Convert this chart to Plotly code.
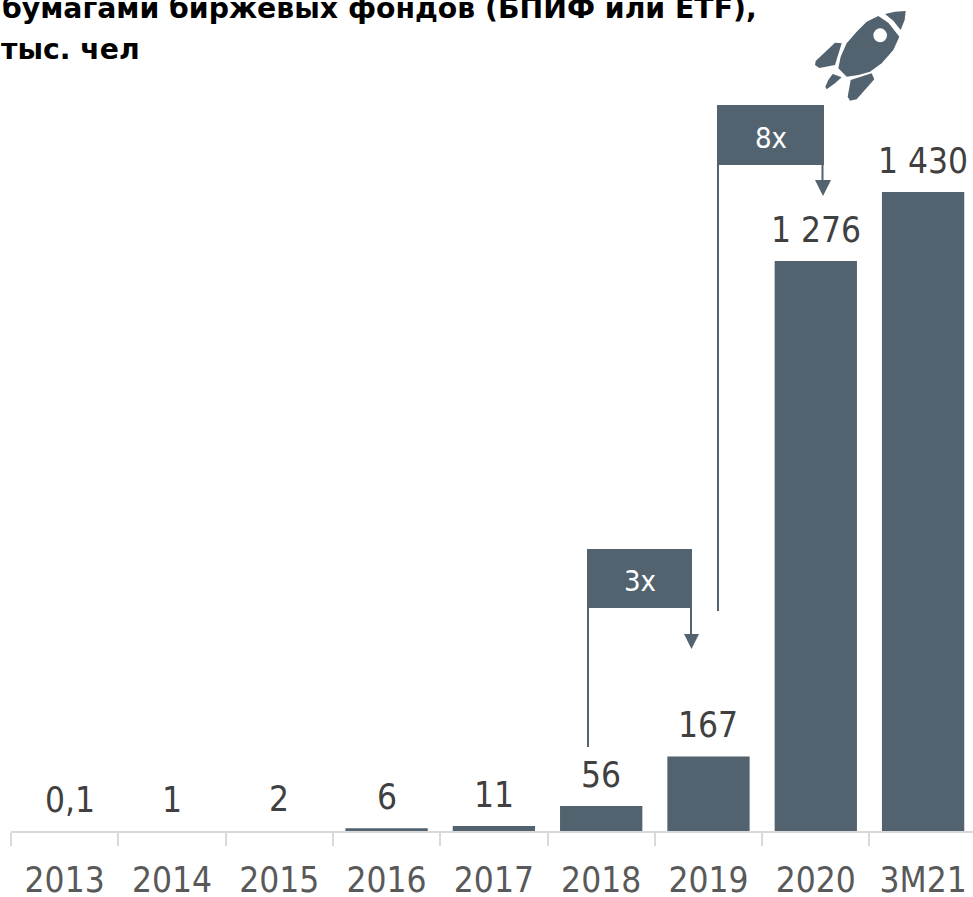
import plotly.graph_objects as go

categories = ["2013", "2014", "2015", "2016", "2017", "2018", "2019", "2020", "3М21"]
values = [0.1, 1, 2, 6, 11, 56, 167, 1276, 1430]
value_labels = ["0,1", "1", "2", "6", "11", "56", "167", "1 276", "1 430"]
title_lines = ["бумагами биржевых фондов (БПИФ или ETF),", "тыс. чел"]

W, H = 973, 897
BAR = "#52636F"
LBL = "#404040"
TICK = "#595959"
FONT = "DejaVu Sans Condensed, DejaVu Sans"


def px(x, y):
    return x / W, 1 - y / H


def path(points):
    parts = []
    for i, (x, y) in enumerate(points):
        u, v = px(x, y)
        parts.append(("M" if i == 0 else "L") + f"{u:.5f},{v:.5f}")
    return " ".join(parts) + " Z"


def zoomed(points):
    return [(560 + x / 3, y / 3) for x, y in points]


shapes = []


def add_poly(points, color=BAR):
    shapes.append(dict(type="path", xref="paper", yref="paper", path=path(points),
                       fillcolor=color, line=dict(width=0)))


def add_line(x0, y0, x1, y1):
    u0, v0 = px(x0, y0)
    u1, v1 = px(x1, y1)
    shapes.append(dict(type="line", xref="paper", yref="paper", x0=u0, y0=v0, x1=u1, y1=v1,
                       line=dict(color=BAR, width=2)))


def add_rect(x0, y0, x1, y1):
    u0, v0 = px(x0, y0)
    u1, v1 = px(x1, y1)
    shapes.append(dict(type="rect", xref="paper", yref="paper", x0=u0, y0=v0, x1=u1, y1=v1,
                       fillcolor=BAR, line=dict(width=0)))


# 3x bracket
add_rect(587, 549, 692, 608)
add_line(588, 608, 588, 747)
add_line(691, 608, 691, 636)
add_poly([(684, 634), (699, 634), (691.5, 649)])
# 8x bracket
add_rect(717, 105, 824, 165)
add_line(718, 165, 718, 611)
add_line(822.5, 165, 822.5, 182)
add_poly([(815, 180), (831, 180), (823, 196)])

# rocket
add_poly(zoomed([(975, 42), (1005, 35), (1037, 33), (1034, 60), (1022, 90), (1000, 62)]))
add_poly(zoomed([(955, 48), (985, 68), (1018, 110), (1000, 150), (965, 190), (930, 215),
                 (895, 225), (860, 230), (835, 205), (842, 170), (860, 130), (890, 95), (920, 65)]))
add_poly(zoomed([(825, 128), (845, 130), (825, 195), (778, 204), (765, 195), (767, 183)]))
add_poly(zoomed([(818, 222), (845, 232), (825, 250), (800, 268), (796, 260), (805, 240)]))
add_poly(zoomed([(935, 220), (943, 238), (890, 298), (870, 302), (863, 290), (872, 240)]))
cx0, cy0 = px(560 + 940 / 3, 85 / 3)
cx1, cy1 = px(560 + 981 / 3, 127 / 3)
shapes.append(dict(type="circle", xref="paper", yref="paper", x0=cx0, y0=cy0, x1=cx1, y1=cy1,
                   fillcolor="white", line=dict(width=0)))

annotations = []


def add_text(text, x, y, size, color, bold=False, anchor="center"):
    u, v = px(x, y)
    annotations.append(dict(xref="paper", yref="paper", x=u, y=v, text=f"<b>{text}</b>" if bold else text,
                            showarrow=False, xanchor=anchor, yanchor="middle",
                            font=dict(family="DejaVu Sans" if bold else FONT, size=size, color=color)))


add_text(title_lines[0], 0, 8, 28.3, "#000000", bold=True, anchor="left")
add_text(title_lines[1], -1, 49, 28.3, "#000000", bold=True, anchor="left")
add_text("3x", 640, 581, 29, "#FFFFFF")
add_text("8x", 771, 138, 29, "#FFFFFF")

for i, (v, t) in enumerate(zip(values, value_labels)):
    annotations.append(dict(xref="x", yref="y", x=i, y=v, text=t, showarrow=False,
                            xanchor="center", yanchor="bottom", yshift=9, xshift=5 if i == 0 else 0,
                            font=dict(family=FONT, size=35, color=LBL)))

bar_colors = ["rgba(0,0,0,0)" if v < 3 else BAR for v in values]

fig = go.Figure(go.Bar(
    x=categories, y=values, width=0.767, marker=dict(color=bar_colors, line=dict(width=0)),
    hoverinfo="skip",
))
fig.update_layout(
    width=W, height=H, margin=dict(l=0, r=0, t=0, b=0), plot_bgcolor="white", paper_bgcolor="white",
    showlegend=False, shapes=shapes, annotations=annotations,
    xaxis=dict(type="category", domain=[11 / W, 1], range=[-0.5, 8.465], tickson="boundaries",
               ticks="outside", ticklen=13, tickwidth=2, tickcolor="#D9D9D9", showline=True,
               linecolor="#D9D9D9", linewidth=2, showgrid=False, ticklabelstandoff=17, automargin=False,
               tickfont=dict(family=FONT, size=35, color=TICK)),
    yaxis=dict(domain=[(H - 831) / H, 1], range=[0, 831 / 0.4468], visible=False, automargin=False),
)
fig.write_html("out.html", config=dict(displayModeBar=False),
               post_script="document.body.style.margin='0';document.body.style.overflow='hidden';")
